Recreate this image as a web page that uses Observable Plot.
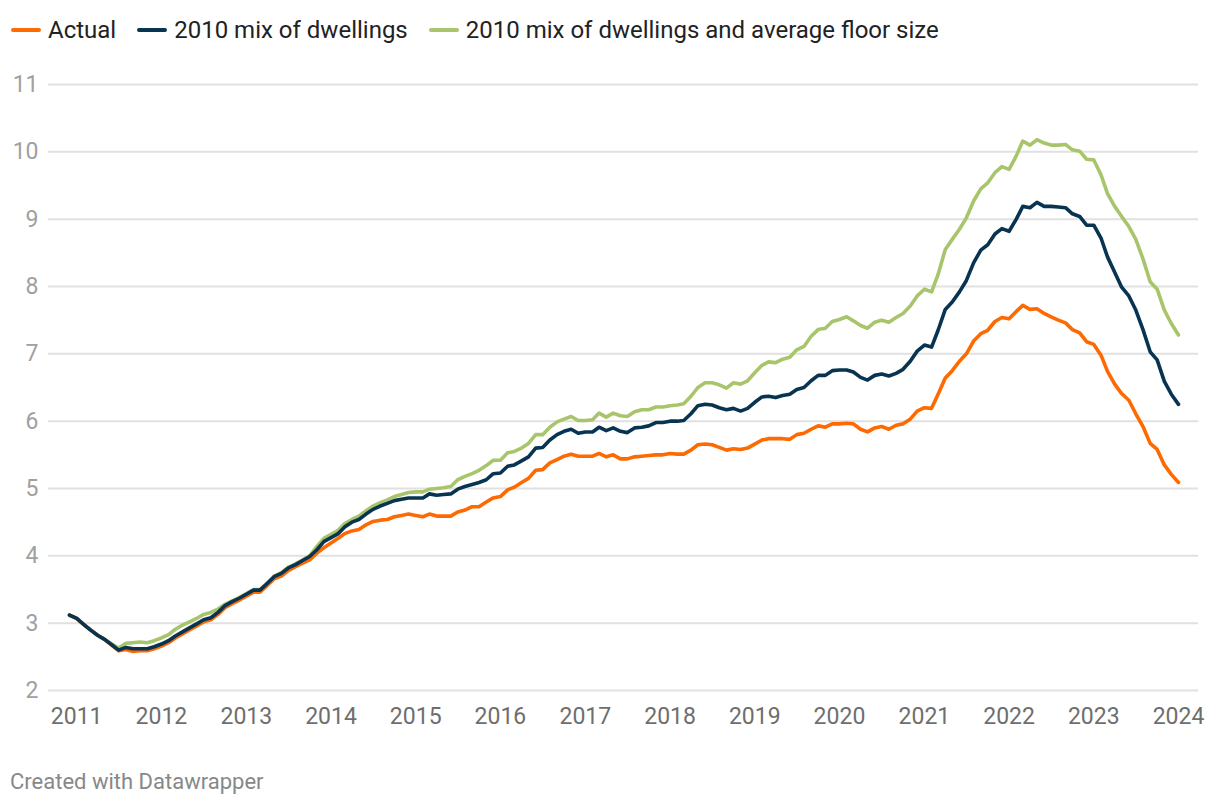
<!DOCTYPE html>
<html>
<head>
<meta charset="utf-8">
<script src="https://cdn.jsdelivr.net/npm/d3@7"></script>
<script src="https://cdn.jsdelivr.net/npm/@observablehq/plot@0.6"></script>
<style>
  html, body { margin: 0; padding: 0; background: #fff; }
  body { width: 1220px; height: 806px; position: relative; overflow: hidden; font-family: Roboto, sans-serif; }
  #legend { position: absolute; left: 11px; top: 16px; display: flex; align-items: center; font-size: 24px; color: #222; white-space: nowrap; }
  .item { display: flex; align-items: center; margin-right: 21px; }
  .sw { width: 30px; height: 4px; border-radius: 2px; margin-right: 7px; }
  #chart { position: absolute; left: 0; top: 60px; }
  #footer { position: absolute; left: 10px; top: 769px; font-size: 22px; color: #888; }
</style>
</head>
<body>
<div id="legend"></div>
<div id="chart"></div>
<div id="footer">Created with Datawrapper</div>
<script>
// Monthly series, first month Dec 2010, last month Jan 2024
const firstMonth = "2010-12-01";
const lastMonth = "2024-01-01";

const seriesNames = ["Actual", "2010 mix of dwellings", "2010 mix of dwellings and average floor size"];
const seriesColors = ["#fd6a02", "#083452", "#a8c56b"];

const actual = [
  3.12, 3.07, 2.98, 2.90, 2.82, 2.76, 2.67, 2.59, 2.61, 2.58, 2.59, 2.59,
  2.62, 2.66, 2.71, 2.78, 2.84, 2.90, 2.96, 3.02, 3.05, 3.13, 3.23, 3.29,
  3.34, 3.40, 3.46, 3.46, 3.56, 3.66, 3.70, 3.78, 3.84, 3.89, 3.94, 4.04,
  4.12, 4.19, 4.26, 4.33, 4.37, 4.39, 4.46, 4.51, 4.53, 4.54, 4.58, 4.60,
  4.62, 4.60, 4.58, 4.62, 4.59, 4.59, 4.59, 4.65, 4.68, 4.73, 4.73, 4.80,
  4.86, 4.88, 4.98, 5.02, 5.09, 5.15, 5.27, 5.28, 5.38, 5.43, 5.48, 5.51,
  5.48, 5.48, 5.48, 5.52, 5.47, 5.50, 5.44, 5.44, 5.47, 5.48, 5.49, 5.50,
  5.50, 5.52, 5.51, 5.51, 5.57, 5.65, 5.66, 5.65, 5.61, 5.57, 5.59, 5.58,
  5.60, 5.66, 5.72, 5.74, 5.74, 5.74, 5.73, 5.80, 5.82, 5.88, 5.93, 5.91,
  5.96, 5.96, 5.97, 5.96, 5.88, 5.84, 5.90, 5.92, 5.88, 5.94, 5.96, 6.03,
  6.15, 6.20, 6.19, 6.40, 6.64, 6.75, 6.89, 7.00, 7.19, 7.30, 7.35, 7.48,
  7.54, 7.52, 7.63, 7.72, 7.66, 7.67, 7.60, 7.55, 7.50, 7.46, 7.36, 7.31,
  7.18, 7.14, 6.98, 6.74, 6.55, 6.41, 6.31, 6.11, 5.92, 5.67, 5.58, 5.35,
  5.21, 5.09
];

const mix2010 = [
  3.12, 3.07, 2.98, 2.90, 2.82, 2.76, 2.68, 2.60, 2.64, 2.62, 2.62, 2.62,
  2.65, 2.69, 2.74, 2.81, 2.87, 2.93, 2.99, 3.05, 3.08, 3.16, 3.26, 3.32,
  3.37, 3.43, 3.49, 3.49, 3.59, 3.69, 3.74, 3.82, 3.87, 3.93, 3.99, 4.09,
  4.21, 4.27, 4.33, 4.43, 4.50, 4.54, 4.62, 4.69, 4.74, 4.78, 4.82, 4.84,
  4.86, 4.86, 4.86, 4.92, 4.90, 4.91, 4.92, 4.99, 5.03, 5.06, 5.09, 5.13,
  5.22, 5.23, 5.33, 5.35, 5.41, 5.47, 5.60, 5.61, 5.72, 5.80, 5.85, 5.88,
  5.82, 5.84, 5.84, 5.91, 5.86, 5.90, 5.85, 5.83, 5.90, 5.91, 5.93, 5.98,
  5.98, 6.00, 6.00, 6.01, 6.11, 6.23, 6.25, 6.24, 6.20, 6.17, 6.19, 6.15,
  6.19, 6.28, 6.36, 6.37, 6.35, 6.38, 6.40, 6.47, 6.50, 6.60, 6.68, 6.68,
  6.75, 6.76, 6.76, 6.73, 6.65, 6.61, 6.68, 6.70, 6.67, 6.71, 6.77, 6.89,
  7.04, 7.13, 7.10, 7.35, 7.66, 7.77, 7.92, 8.09, 8.35, 8.54, 8.62, 8.78,
  8.86, 8.82, 9.00, 9.19, 9.17, 9.25, 9.19, 9.19, 9.18, 9.17, 9.08, 9.04,
  8.91, 8.91, 8.72, 8.44, 8.21, 7.99, 7.86, 7.65, 7.36, 7.03, 6.91, 6.59,
  6.40, 6.25
];

const mix2010Floor = [
  3.12, 3.07, 2.98, 2.90, 2.82, 2.76, 2.69, 2.63, 2.70, 2.71, 2.72, 2.71,
  2.74, 2.78, 2.83, 2.91, 2.97, 3.02, 3.07, 3.13, 3.16, 3.21, 3.28, 3.33,
  3.38, 3.44, 3.50, 3.50, 3.60, 3.70, 3.75, 3.83, 3.88, 3.94, 4.00, 4.14,
  4.26, 4.32, 4.38, 4.48, 4.54, 4.59, 4.67, 4.74, 4.79, 4.83, 4.88, 4.91,
  4.94, 4.95, 4.95, 4.99, 5.00, 5.01, 5.03, 5.13, 5.18, 5.22, 5.27, 5.34,
  5.42, 5.42, 5.53, 5.55, 5.60, 5.67, 5.80, 5.80, 5.91, 5.99, 6.03, 6.07,
  6.01, 6.01, 6.02, 6.12, 6.06, 6.12, 6.08, 6.07, 6.14, 6.17, 6.17, 6.21,
  6.21, 6.23, 6.24, 6.26, 6.37, 6.50, 6.57, 6.57, 6.54, 6.49, 6.57, 6.55,
  6.60, 6.72, 6.83, 6.88, 6.87, 6.92, 6.95, 7.06, 7.11, 7.26, 7.36, 7.38,
  7.48, 7.51, 7.55, 7.49, 7.42, 7.38, 7.47, 7.50, 7.47, 7.54, 7.60, 7.71,
  7.86, 7.96, 7.92, 8.18, 8.55, 8.70, 8.85, 9.02, 9.27, 9.45, 9.54, 9.69,
  9.78, 9.74, 9.94, 10.16, 10.10, 10.18, 10.13, 10.10, 10.10, 10.11, 10.03, 10.01,
  9.89, 9.88, 9.66, 9.38, 9.19, 9.04, 8.89, 8.70, 8.41, 8.07, 7.96, 7.65,
  7.45, 7.28
];

const yTicks = [2, 3, 4, 5, 6, 7, 8, 9, 10, 11];
const xTickYears = [2011, 2012, 2013, 2014, 2015, 2016, 2017, 2018, 2019, 2020, 2021, 2022, 2023, 2024];

// build table
const months = d3.utcMonth.range(new Date(firstMonth), d3.utcMonth.offset(new Date(lastMonth), 1));
const seriesValues = [actual, mix2010, mix2010Floor];
const rows = [];
seriesValues.forEach((vals, si) => {
  vals.forEach((v, i) => rows.push({date: months[i], value: v, series: seriesNames[si]}));
});
const xTicks = xTickYears.map(y => new Date(Date.UTC(y, 0, 1)));

// legend
const legend = document.getElementById("legend");
seriesNames.forEach((name, i) => {
  const it = document.createElement("div");
  it.className = "item";
  const sw = document.createElement("div");
  sw.className = "sw";
  sw.style.background = seriesColors[i];
  const tx = document.createElement("span");
  tx.textContent = name;
  it.appendChild(sw); it.appendChild(tx);
  legend.appendChild(it);
});

const drawOrder = [seriesNames[2], seriesNames[0], seriesNames[1]];

const chart = Plot.plot({
  width: 1220,
  height: 680,
  marginTop: 24,
  marginBottom: 50,
  marginLeft: 48,
  marginRight: 22,
  style: {fontFamily: "Roboto, sans-serif", fontSize: "23px", background: "#fff"},
  x: {type: "utc", domain: [new Date(firstMonth), new Date(lastMonth)], range: [69, 1178]},
  y: {domain: [2, 11]},
  color: {domain: seriesNames, range: seriesColors},
  marks: [
    Plot.ruleY(yTicks, {stroke: "#e1e1e1", strokeWidth: 2}),
    Plot.axisY({ticks: yTicks, tickSize: 0, tickPadding: 10, label: null, fill: "#a0a0a0", fontSize: 23}),
    Plot.axisX({ticks: xTicks, tickFormat: d3.utcFormat("%Y"), tickSize: 0, tickPadding: 17, label: null, fill: "#6e6e6e", fontSize: 23}),
    ...drawOrder.map(name => Plot.line(rows.filter(d => d.series === name), {
      x: "date", y: "value", stroke: "series", strokeWidth: 3.6, strokeLinejoin: "round", strokeLinecap: "round"
    }))
  ]
});
document.getElementById("chart").appendChild(chart);
</script>
</body>
</html>
